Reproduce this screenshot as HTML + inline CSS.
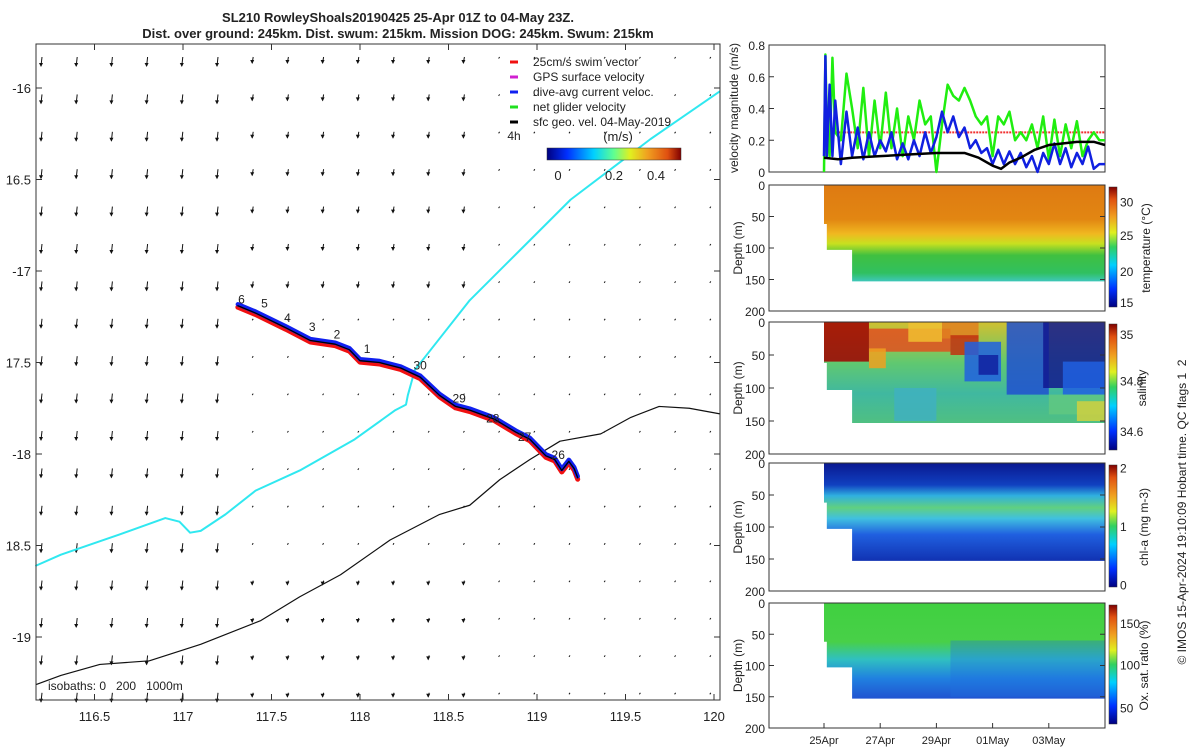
<!DOCTYPE html>
<html><head><meta charset="utf-8">
<style>
body{margin:0;background:#fff;}
svg text{font-family:"Liberation Sans",sans-serif;fill:#222;}
</style></head>
<body>
<svg id="s" width="1200" height="750" viewBox="0 0 1200 750" xmlns="http://www.w3.org/2000/svg">
<defs>
<linearGradient id="jet" x1="0" x2="1" y1="0" y2="0">
<stop offset="0" stop-color="#00007f"/><stop offset="0.15" stop-color="#0030ff"/><stop offset="0.35" stop-color="#00d0ff"/><stop offset="0.5" stop-color="#60ff90"/><stop offset="0.62" stop-color="#e0f020"/><stop offset="0.75" stop-color="#f0a020"/><stop offset="0.9" stop-color="#e05010"/><stop offset="1" stop-color="#800000"/></linearGradient>
<linearGradient id="jetv" x1="0" x2="0" y1="1" y2="0">
<stop offset="0" stop-color="#00007f"/><stop offset="0.15" stop-color="#0030ff"/><stop offset="0.35" stop-color="#00d0ff"/><stop offset="0.5" stop-color="#30d060"/><stop offset="0.62" stop-color="#e0f020"/><stop offset="0.75" stop-color="#f0a020"/><stop offset="0.9" stop-color="#e05010"/><stop offset="1" stop-color="#800000"/></linearGradient>
<linearGradient id="gT" x1="0" x2="0" y1="0" y2="1">
<stop offset="0" stop-color="#de7a12"/><stop offset="0.35" stop-color="#e28612"/><stop offset="0.5" stop-color="#f0b820"/><stop offset="0.6" stop-color="#c8e020"/><stop offset="0.72" stop-color="#40c040"/><stop offset="0.9" stop-color="#30c060"/><stop offset="1" stop-color="#40c8c8"/></linearGradient>
<linearGradient id="gS" x1="0" x2="0" y1="0" y2="1">
<stop offset="0" stop-color="#d0c030"/><stop offset="0.4" stop-color="#60c870"/><stop offset="0.7" stop-color="#40b8a0"/><stop offset="1" stop-color="#50c080"/></linearGradient>
<linearGradient id="gC" x1="0" x2="0" y1="0" y2="1">
<stop offset="0" stop-color="#0a1890"/><stop offset="0.22" stop-color="#1040c0"/><stop offset="0.33" stop-color="#30b0e0"/><stop offset="0.45" stop-color="#60d080"/><stop offset="0.56" stop-color="#40c0e0"/><stop offset="0.72" stop-color="#2060e0"/><stop offset="1" stop-color="#1030b0"/></linearGradient>
<linearGradient id="gO" x1="0" x2="0" y1="0" y2="1">
<stop offset="0" stop-color="#40d040"/><stop offset="0.4" stop-color="#48d048"/><stop offset="0.58" stop-color="#30c0c0"/><stop offset="0.78" stop-color="#2080e0"/><stop offset="1" stop-color="#2050d0"/></linearGradient>
</defs>
<g id="map"></g>
<g id="right"></g>
</svg>
<script>
// ---------- data ----------
const mapLonTicks=[116.5,117,117.5,118,118.5,119,119.5,120];
const mapLonLabels=["116.5","117","117.5","118","118.5","119","119.5","120"];
const mapLatTicks=[-16,-16.5,-17,-17.5,-18,-18.5,-19];
const mapLatLabels=["-16","16.5","-17","17.5","-18","18.5","-19"];
const cyanLon=[120.03,119.64,119.19,118.90,118.62,118.40,118.31,118.27,118.26,118.20,117.97,117.66,117.41,117.24,117.10,117.04,116.98,116.90,116.64,116.31,116.17];
const cyanLat=[-16.02,-16.28,-16.61,-16.89,-17.16,-17.43,-17.54,-17.68,-17.73,-17.76,-17.92,-18.09,-18.20,-18.33,-18.42,-18.43,-18.37,-18.35,-18.44,-18.55,-18.61];
const isoLon=[116.17,116.31,116.53,116.81,117.10,117.44,117.66,117.89,118.17,118.45,118.62,118.79,118.96,119.13,119.36,119.53,119.69,119.86,120.03];
const isoLat=[-19.26,-19.21,-19.15,-19.13,-19.04,-18.91,-18.78,-18.66,-18.47,-18.33,-18.28,-18.14,-18.03,-17.93,-17.89,-17.80,-17.74,-17.75,-17.78];
const trackLon=[117.31,117.41,117.58,117.72,117.86,117.94,118.00,118.11,118.23,118.34,118.45,118.54,118.62,118.76,118.88,118.96,119.05,119.10,119.14,119.18,119.21,119.23];
const trackLat=[-17.19,-17.23,-17.31,-17.38,-17.40,-17.43,-17.49,-17.50,-17.53,-17.58,-17.68,-17.74,-17.76,-17.81,-17.88,-17.92,-18.01,-18.03,-18.09,-18.04,-18.08,-18.13];
const dayLabels=["6","5","4","3","2","1","30","29","28","27","26"];
const dayLon=[117.33,117.46,117.59,117.73,117.87,118.04,118.34,118.56,118.75,118.93,119.12];
const dayLat=[-17.20,-17.22,-17.30,-17.35,-17.39,-17.47,-17.56,-17.74,-17.85,-17.95,-18.05];

const velDays=[0,0.05,0.1,0.2,0.3,0.4,0.6,0.8,1.0,1.2,1.4,1.6,1.8,2.0,2.2,2.4,2.6,2.8,3.0,3.2,3.4,3.6,3.8,4.0,4.2,4.4,4.6,4.8,5.0,5.2,5.4,5.6,5.8,6.0,6.2,6.4,6.6,6.8,7.0,7.2,7.4,7.6,7.8,8.0,8.2,8.4,8.6,8.8,9.0,9.2,9.4,9.6,9.8,10];
const netVel=[0.0,0.74,0.3,0.1,0.72,0.25,0.2,0.62,0.4,0.15,0.53,0.1,0.45,0.15,0.5,0.15,0.4,0.1,0.35,0.2,0.45,0.3,0.35,0.0,0.3,0.55,0.48,0.45,0.53,0.45,0.35,0.3,0.35,0.1,0.35,0.3,0.38,0.2,0.25,0.2,0.3,0.15,0.35,0.08,0.33,0.1,0.3,0.15,0.32,0.1,0.2,0.25,0.2,0.2];
const curVel=[0.1,0.73,0.1,0.55,0.1,0.45,0.05,0.38,0.1,0.28,0.08,0.25,0.1,0.2,0.13,0.25,0.08,0.18,0.08,0.2,0.1,0.25,0.12,0.22,0.38,0.25,0.35,0.22,0.28,0.15,0.2,0.12,0.15,0.05,0.14,0.05,0.13,0.05,0.12,0.03,0.1,0.0,0.12,0.05,0.18,0.05,0.15,0.03,0.12,0.05,0.16,0.02,0.05,0.05];
const geoDays=[0,0.5,1,2,3,4,5,5.5,6,6.3,6.6,7,7.5,8,9,9.6,10];
const geoVel=[0.09,0.08,0.09,0.1,0.11,0.12,0.12,0.09,0.04,0.02,0.06,0.09,0.14,0.17,0.19,0.19,0.17];
const swimVel=0.25;
const dateLabels=["25Apr","27Apr","29Apr","01May","03May"];
const dateDays=[0,2,4,6,8];
const velTicks=[0,0.2,0.4,0.6,0.8];
const depthTicks=[0,50,100,150,200];
const cbTitles=["temperature (°C)","salinity","chl-a (mg m-3)","Ox. sat. ratio (%)"];
const cbTickLabels=[["30","25","20","15"],["35","34.8","34.6"],["2","1","0"],["150","100","50"]];
const cbTickFrac=[[0.12,0.4,0.7,0.96],[0.08,0.45,0.85],[0.02,0.5,0.98],[0.15,0.5,0.86]];

// ---------- helpers ----------
const NS="http://www.w3.org/2000/svg";
function mk(tag,attrs,parent){const e=document.createElementNS(NS,tag);for(const k in attrs)e.setAttribute(k,attrs[k]);parent.appendChild(e);return e;}
function txt(s,x,y,size,anchor,parent,extra){const t=mk('text',Object.assign({x:x,y:y,'font-size':size,'text-anchor':anchor||'start'},extra||{}),parent);t.textContent=s;return t;}
const LX=lon=>183+(lon-117)*177;
const LY=lat=>88-(lat+16)*183;
const M=document.getElementById('map');
const R=document.getElementById('right');

let t1=txt("SL210 RowleyShoals20190425 25-Apr 01Z to 04-May 23Z.",398,22,13,'middle',M,{'font-weight':'bold'});


let t2=txt("Dist. over ground: 245km. Dist. swum: 215km. Mission DOG: 245km. Swum: 215km",398,38,13,'middle',M,{'font-weight':'bold'});



// quiver field
const qv=mk('g',{},M);


for(let x=42;x<=720;x+=35.2){for(let y=57;y<=700;y+=37.4){
  let L=1.5;
  if(x<235)L=9; else if(y<290&&x<470)L=6; else if(x<470&&y>580)L=4;
  mk('line',{x1:x,y1:y,x2:x-1,y2:y+L,stroke:'#111','stroke-width':1},qv);
  if(L>3)mk('path',{d:`M${x-3},${y+L-3} L${x-1},${y+L+1} L${x+1},${y+L-3}Z`,fill:'#111'},qv);
}}

function poly(lons,lats,st,w,name,parent){const p=mk('polyline',{points:lons.map((v,i)=>LX(v)+','+LY(lats[i])).join(' '),fill:'none',stroke:st,'stroke-width':w,'stroke-linejoin':'round','stroke-linecap':'round'},parent);return p;}
poly(cyanLon,cyanLat,'#30e8f0',2,'cyan-track',M);
poly(isoLon,isoLat,'#111',1.2,'isobath-line',M);
poly(trackLon,trackLat.map(v=>v-0.008),'#f01010',5,'track-red',M);
poly(trackLon,trackLat.map(v=>v+0.008),'#1020f0',4.5,'track-blue',M);
poly(trackLon,trackLat,'#000',1.3,'glider-track',M);
dayLabels.forEach((d,i)=>{const t=txt(d,LX(dayLon[i]),LY(dayLat[i])-4,12,'middle',M);});

const ax=mk('rect',{x:36,y:44,width:684,height:656,fill:'none',stroke:'#333','stroke-width':1},M);


mapLonTicks.forEach((v,i)=>{const x=LX(v);mk('line',{x1:x,x2:x,y1:700,y2:694,stroke:'#333'},M);mk('line',{x1:x,x2:x,y1:44,y2:50,stroke:'#333'},M);const t=txt(mapLonLabels[i],x,721,13,'middle',M);});
mapLatTicks.forEach((v,i)=>{const y=LY(v);mk('line',{x1:36,x2:42,y1:y,y2:y,stroke:'#333'},M);mk('line',{x1:720,x2:714,y1:y,y2:y,stroke:'#333'},M);const t=txt(mapLatLabels[i],31,y+5,13,'end',M);});
let iso=txt("isobaths: 0\u00a0\u00a0\u00a0200\u00a0\u00a0\u00a01000m",48,690,12,'start',M);



const lg=mk('g',{},M);


const legItems=[["25cm/s swim vector","#f01010"],["GPS surface velocity","#d020d0"],["dive-avg current veloc.","#1020f0"],["net glider velocity","#20e020"],["sfc geo. vel. 04-May-2019","#000"]];
legItems.forEach((it,i)=>{const y=62+i*15;mk('line',{x1:510,x2:518,y1:y,y2:y,stroke:it[1],'stroke-width':3},lg);const t=txt(it[0],533,y+4,12,'start',lg);});
txt("4h",514,140,12,'middle',lg);
txt("(m/s)",618,141,13,'middle',lg);
const cb0=mk('rect',{x:547,y:148,width:134,height:12,fill:'url(#jet)',stroke:'#333','stroke-width':0.5},lg);


[["0",558],["0.2",614],["0.4",656]].forEach(a=>txt(a[0],a[1],180,13,'middle',lg));

// ---------- right panels ----------
const DX=d=>824+d*28.1;
const VY=v=>172-v/0.8*127;
const PL=769,PR=1105;
mk('rect',{x:PL,y:45,width:PR-PL,height:127,fill:'none',stroke:'#333'},R);
velTicks.forEach(v=>{mk('line',{x1:PL,x2:PL+5,y1:VY(v),y2:VY(v),stroke:'#333'},R);mk('line',{x1:PR,x2:PR-5,y1:VY(v),y2:VY(v),stroke:'#333'},R);txt(String(v),765,VY(v)+5,12,'end',R);});
let vt=txt("velocity magnitude (m/s)",738,108,12,'middle',R,{transform:'rotate(-90 738 108)'});


const sw=mk('line',{x1:DX(0.4),x2:DX(10),y1:VY(swimVel),y2:VY(swimVel),stroke:'#f03030','stroke-width':2,'stroke-dasharray':'2,1'},R);


function vline(days,vals,col,w,name){const p=mk('polyline',{points:days.map((d,i)=>DX(d)+','+VY(vals[i])).join(' '),fill:'none',stroke:col,'stroke-width':w,'stroke-linejoin':'round'},R);}
vline(velDays,netVel,'#20ee10',2.5,'net-velocity-line');
vline(velDays,curVel,'#1020e0',2.5,'current-velocity-line');
vline(geoDays,geoVel,'#000',2.5,'geostrophic-velocity-line');

const panels=[[185,311],[322,454],[463,591],[603,728]];
const grads=['gT','gS','gC','gO'];
const names=['temperature-section','salinity-section','chl-section','oxygen-section'];
panels.forEach((p,k)=>{
  const top=p[0],bot=p[1];const DY=d=>top+d/200*(bot-top);
  const g=mk('g',{},R);
  
  
  const cp='cp'+k;
  const c=mk('clipPath',{id:cp},g);
  mk('path',{d:`M${DX(0)},${DY(0)} L${PR},${DY(0)} L${PR},${DY(153)} L${DX(1)},${DY(153)} L${DX(1)},${DY(103)} L${DX(0.1)},${DY(103)} L${DX(0.1)},${DY(62)} L${DX(0)},${DY(62)}Z`},c);
  const gg=mk('g',{'clip-path':`url(#${cp})`},g);
  mk('rect',{x:DX(0),y:DY(0),width:PR-DX(0),height:DY(155)-DY(0),fill:`url(#${grads[k]})`},gg);
  if(k==1){
    const pat=[[0,1.6,0,60,'#a00000'],[1.6,4.5,10,45,'#e05020'],[1.6,2.2,40,70,'#f0a020'],[3,4.2,0,30,'#f0c030'],[4.2,5.5,0,25,'#e08020'],[4.5,5.5,20,50,'#c03010'],[5.0,6.3,30,90,'#2060e0'],[5.5,6.2,50,80,'#1020a0'],[6.5,8,0,110,'#2050d0'],[7.8,10,0,100,'#101890'],[8.5,10,60,110,'#2060e0'],[8,10,110,140,'#60c880'],[9,10,120,150,'#d0d040'],[2.5,4,100,150,'#40b0c0']];
    pat.forEach(q=>mk('rect',{x:DX(q[0]),y:DY(q[2]),width:DX(q[1])-DX(q[0]),height:DY(q[3])-DY(q[2]),fill:q[4],opacity:0.85},gg));
  }
  if(k==3){mk('rect',{x:DX(4.5),y:DY(60),width:DX(10)-DX(4.5),height:DY(150)-DY(60),fill:'#2070e0',opacity:0.35},gg);}
  mk('rect',{x:PL,y:top,width:PR-PL,height:bot-top,fill:'none',stroke:'#333'},g);
  depthTicks.forEach(d=>{mk('line',{x1:PL,x2:PL+5,y1:DY(d),y2:DY(d),stroke:'#333'},g);mk('line',{x1:PR,x2:PR-5,y1:DY(d),y2:DY(d),stroke:'#333'},g);txt(String(d),765,DY(d)+5,12,'end',g);});
  const cy=(top+bot)/2;
  txt("Depth (m)",742,cy,12,'middle',g,{transform:`rotate(-90 742 ${cy})`});
  const cb=mk('rect',{x:1109,y:top+2,width:8,height:bot-top-6,fill:'url(#jetv)',stroke:'#333','stroke-width':0.5},g);
  
  
  cbTickLabels[k].forEach((l,i)=>{const y=top+2+cbTickFrac[k][i]*(bot-top-6);txt(l,1120,y+5,12,'start',g);});
  const tx=k==1?1146:(k==0?1150:1148);
  const tt=txt(cbTitles[k],tx,cy,12,'middle',g,{transform:`rotate(-90 ${tx} ${cy})`});
  
  
});
dateDays.forEach((d,i)=>{mk('line',{x1:DX(d),x2:DX(d),y1:728,y2:723,stroke:'#333'},R);const t=txt(dateLabels[i],DX(d),744,11,'middle',R);});
const cr=txt("© IMOS 15-Apr-2024 19:10:09 Hobart time. QC flags 1\u00a0\u00a02",1186,512,12,'middle',R,{transform:'rotate(-90 1186 512)'});


</script>
</body></html>
